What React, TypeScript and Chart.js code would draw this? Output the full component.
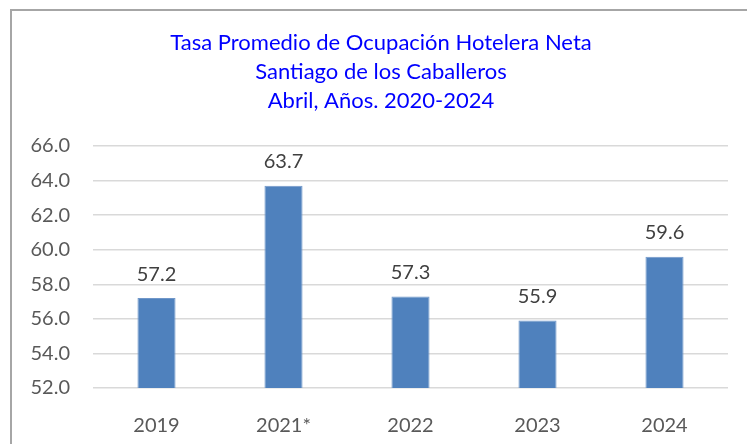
import React, { useEffect, useRef } from "react";
import { Chart, registerables } from "chart.js";

Chart.register(...registerables);

const categories = ["2019", "2021*", "2022", "2023", "2024"];
const values = [57.2, 63.7, 57.3, 55.9, 59.6];
const titleLines = [
  "Tasa Promedio de Ocupación Hotelera Neta",
  "Santiago de los Caballeros",
  "Abril, Años. 2020-2024",
];
const yMin = 52;
const yMax = 66;
const yStep = 2;

const FONT = "Lato, 'Open Sans', sans-serif";

const dataLabelPlugin = {
  id: "dataLabels",
  afterDatasetsDraw(chart: any) {
    const ctx = chart.ctx;
    const meta = chart.getDatasetMeta(0);
    ctx.save();
    ctx.font = `20px ${FONT}`;
    ctx.fillStyle = "#404040";
    ctx.textAlign = "center";
    ctx.textBaseline = "middle";
    meta.data.forEach((bar: any, i: number) => {
      ctx.fillText(values[i].toFixed(1), bar.x, bar.y - 24);
    });
    ctx.restore();
  },
};

export default function App() {
  const ref = useRef<HTMLCanvasElement>(null);
  useEffect(() => {
    if (!ref.current) return;
    const chart = new Chart(ref.current, {
      type: "bar",
      data: {
        labels: categories,
        datasets: [
          {
            data: values,
            backgroundColor: "#4F81BD",
            borderColor: "#7097C9",
            borderWidth: 1,
            barPercentage: 0.3,
            categoryPercentage: 1,
          },
        ],
      },
      options: {
        animation: false,
        responsive: false,
        maintainAspectRatio: false,
        layout: { padding: { left: 15, right: 0, top: 0, bottom: 0 } },
        plugins: {
          legend: { display: false },
          tooltip: { enabled: false },
          title: {
            display: true,
            text: titleLines,
            color: "#0000FF",
            font: { family: FONT, size: 22, weight: "normal", lineHeight: 29 / 22 },
            padding: { top: 28, bottom: 31 },
          },
        },
        scales: {
          x: {
            grid: { display: false },
            border: { display: false },
            ticks: {
              color: "#595959",
              font: { family: FONT, size: 20 },
              padding: 18,
            },
            afterFit: (s: any) => {
              s.height = 56;
            },
          },
          y: {
            min: yMin,
            max: yMax,
            grid: { color: "#d9d9d9", lineWidth: 1.5, drawTicks: false },
            border: { display: false },
            ticks: {
              stepSize: yStep,
              color: "#595959",
              font: { family: FONT, size: 20 },
              padding: 23,
              callback: (v: any) => Number(v).toFixed(1),
            },
            afterFit: (s: any) => {
              s.width = 78;
            },
          },
          y2: {
            position: "right",
            min: yMin,
            max: yMax,
            grid: { display: false },
            border: { display: false },
            ticks: { display: false },
            afterFit: (s: any) => {
              s.width = 19;
            },
          },
        },
      },
      plugins: [dataLabelPlugin],
    });
    return () => chart.destroy();
  }, []);
  return (
    <div
      style={{
        position: "absolute",
        left: 0,
        top: 0,
        width: 747,
        height: 444,
        overflow: "hidden",
        background: "#ffffff",
      }}
    >
      <canvas ref={ref} width={747} height={444} style={{ display: "block" }} />
      <div
        style={{
          position: "absolute",
          left: 10,
          top: 9,
          width: 800,
          height: 500,
          border: "2px solid #a6a6a6",
          pointerEvents: "none",
        }}
      />
    </div>
  );
}
